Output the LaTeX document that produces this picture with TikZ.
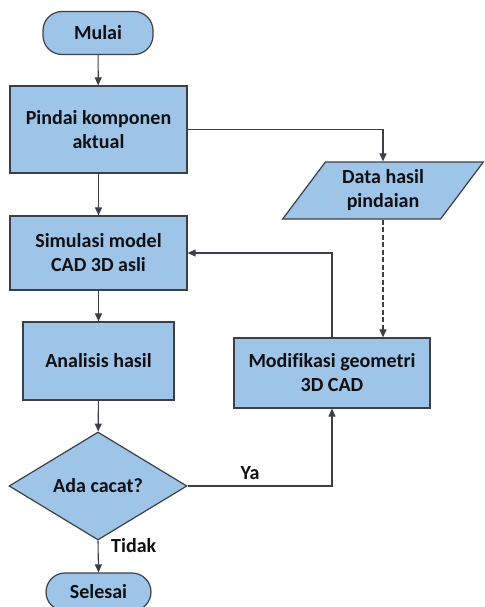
\documentclass[tikz,border=0pt]{standalone}
\usepackage{fontspec}
\setmainfont[Ligatures=NoCommon]{Carlito}
\usetikzlibrary{shapes.geometric,arrows.meta}
\definecolor{boxfill}{RGB}{158,196,231}
\definecolor{boxline}{RGB}{60,64,70}
\definecolor{txt}{RGB}{15,15,20}
\tikzset{
  base/.style={draw=boxline, fill=boxfill, line width=1.2pt, inner sep=0pt, align=center,
    font=\fontsize{20}{24}\selectfont\bfseries, text=txt},
  procbox/.style={base, rectangle},
  termbox/.style={base, rectangle, rounded corners=19pt},
  iobox/.style={base, trapezium, trapezium left angle=53.6, trapezium right angle=126.4, trapezium stretches=true},
  decbox/.style={base, diamond},
  conn/.style={draw=boxline, line width=1.1pt, -{Triangle[length=8pt,width=7pt]}},
  lbl/.style={font=\fontsize{20}{24}\selectfont\bfseries, text=txt, inner sep=0pt}
}
\begin{document}
\begin{tikzpicture}[x=1pt,y=-1pt]
\useasboundingbox (0,0) rectangle (484,607);
\node[termbox, minimum width=110pt, minimum height=43pt] (mulai) at (98,33) {Mulai};
\node[procbox, minimum width=177pt, minimum height=87pt] (pindai) at (98.5,129.5) {Pindai komponen\\aktual};
\node[iobox, minimum width=201pt, minimum height=57pt] (data) at (383,190.5) {Data hasil\\pindaian};
\node[procbox, minimum width=177pt, minimum height=74pt] (sim) at (98.5,253) {Simulasi model\\CAD 3D asli};
\node[procbox, minimum width=151pt, minimum height=78pt] (anal) at (98.5,361) {Analisis hasil};
\node[procbox, minimum width=196pt, minimum height=70pt] (modif) at (332,373) {Modifikasi geometri\\3D CAD};
\node[decbox, minimum width=178pt, minimum height=108pt] (dec) at (98,486) {Ada cacat?};
\node[termbox, minimum width=105pt, minimum height=38pt] (sel) at (98.5,592) {Selesai};

\draw[conn] (mulai) -- (pindai);
\draw[conn] (pindai.east) -| (data.north);
\draw[conn] (pindai) -- (sim);
\draw[conn, dash pattern=on 5pt off 2.5pt] (data.south) -- (data.south |- modif.north);
\draw[conn] (modif.north) |- (sim.east);
\draw[conn] (sim) -- (anal);
\draw[conn] (anal) -- (dec);
\draw[conn] (dec.east) -| (modif.south);
\draw[conn] (dec.south) -- (sel.north);
\node[lbl] (ya) at (250,473) {Ya};
\node[lbl, anchor=west] (tidak) at (111,546) {Tidak};
\end{tikzpicture}
\end{document}
